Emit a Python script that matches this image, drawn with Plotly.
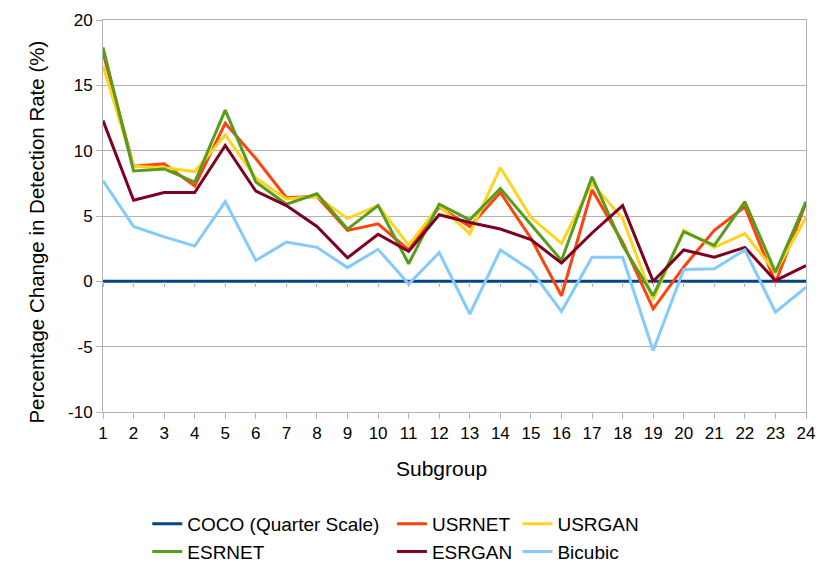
import plotly.graph_objects as go

subgroups = list(range(1, 24 + 1))

coco = [0] * 24
usrnet = [17.5, 8.8, 9.0, 7.3, 12.1, 9.4, 6.4, 6.5, 3.9, 4.4, 2.4, 5.7,
          4.2, 6.8, 3.3, -1.1, 7.0, 3.0, -2.1, 1.1, 3.9, 5.7, -0.1, 6.0]
usrgan = [16.5, 8.8, 8.7, 8.4, 11.2, 7.9, 6.3, 6.5, 4.8, 5.8, 2.75, 5.8,
          3.65, 8.7, 4.9, 2.9, 7.5, 4.8, -1.4, 3.9, 2.6, 3.65, 0.7, 4.9]
esrnet = [17.9, 8.45, 8.6, 7.6, 13.1, 7.6, 5.9, 6.7, 4.0, 5.8, 1.35, 5.9,
          4.7, 7.1, 4.35, 1.6, 8.0, 2.75, -1.1, 3.8, 2.75, 6.1, 0.7, 6.1]
esrgan = [12.3, 6.2, 6.8, 6.8, 10.4, 6.9, 5.8, 4.2, 1.8, 3.6, 2.3, 5.1,
          4.5, 4.0, 3.2, 1.4, 3.7, 5.8, 0.0, 2.4, 1.85, 2.6, 0.05, 1.2]
bicubic = [7.7, 4.2, 3.4, 2.7, 6.1, 1.6, 3.0, 2.6, 1.05, 2.45, -0.2, 2.2,
           -2.5, 2.4, 0.85, -2.3, 1.85, 1.85, -5.3, 0.9, 0.97, 2.4, -2.35, -0.45]

y_ticks = [-10, -5, 0, 5, 10, 15, 20]
y_tick_labels = ["-10", "-5", "0", "5", "10", "15", "20"]

series = [
    ("COCO (Quarter Scale)", coco, "#004586", "legend"),
    ("USRNET", usrnet, "#ff420e", "legend2"),
    ("USRGAN", usrgan, "#ffd320", "legend3"),
    ("ESRNET", esrnet, "#579d1c", "legend"),
    ("ESRGAN", esrgan, "#7e0021", "legend2"),
    ("Bicubic", bicubic, "#83caff", "legend3"),
]

fig = go.Figure()
for name, vals, color, leg in series:
    fig.add_trace(go.Scatter(x=subgroups, y=vals, name=name, mode="lines",
                             line=dict(color=color, width=3), legend=leg))

# empty trace to hold the tick axis drawn at y = 0
fig.add_trace(go.Scatter(x=[], y=[], xaxis="x2", showlegend=False,
                         hoverinfo="skip"))

font = "Liberation Sans, Arial, sans-serif"
grid = "#b3b3b3"

legend_common = dict(orientation="v", yanchor="top", xanchor="left",
                     y=-0.237, font=dict(size=19, color="#000", family=font),
                     bgcolor="rgba(0,0,0,0)", tracegroupgap=0,
                     itemwidth=30)

fig.update_layout(
    width=824, height=559,
    margin=dict(l=95, r=26, t=12, b=155, autoexpand=False),
    paper_bgcolor="white", plot_bgcolor="white",
    font=dict(family=font, color="#000"),
    showlegend=True,
    legend=dict(x=0.063, **legend_common),
    legend2=dict(x=0.411, **legend_common),
    legend3=dict(x=0.5895, **legend_common),
    xaxis=dict(range=[1, 24], tickvals=subgroups, showgrid=False,
               zeroline=False, showline=True, linecolor=grid, linewidth=1,
               mirror=True, ticks="outside", ticklen=6, tickcolor=grid,
               automargin=False,
               tickfont=dict(size=17, color="#000", family=font)),
    xaxis2=dict(range=[1, 24], tickvals=subgroups, overlaying="x",
                anchor="free", position=1 / 3, showgrid=False,
                zeroline=False, showline=False, showticklabels=False,
                ticks="outside", ticklen=5, tickcolor=grid, side="bottom"),
    yaxis=dict(range=[-10, 20], tickvals=y_ticks, ticktext=y_tick_labels,
               showgrid=True, automargin=False,
               gridcolor=grid, gridwidth=1, zeroline=False, showline=True,
               linecolor=grid, linewidth=1, mirror=True, ticks="outside",
               ticklen=6, tickcolor=grid,
               tickfont=dict(size=17, color="#000", family=font)),
    annotations=[
        dict(text="Subgroup", xref="paper", yref="paper", x=0.482, y=-0.143,
             xanchor="center", yanchor="middle", showarrow=False,
             font=dict(size=21, family=font, color="#000")),
        dict(text="Percentage Change in Detection Rate (%)", xref="paper",
             yref="paper", x=-0.094, y=0.46, textangle=-90,
             xanchor="center", yanchor="middle", showarrow=False,
             font=dict(size=20.5, family=font, color="#000")),
    ],
)

fig.write_html("out.html")
